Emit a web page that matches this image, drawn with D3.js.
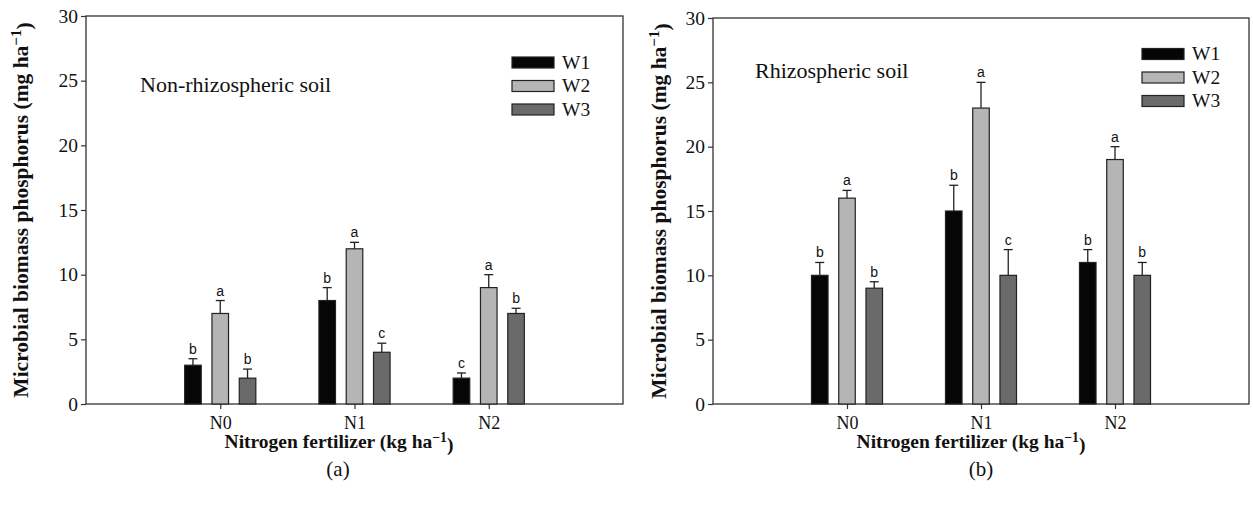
<!DOCTYPE html>
<html>
<head>
<meta charset="utf-8">
<script src="https://cdn.jsdelivr.net/npm/d3@7"></script>
<style>
  body { margin: 0; background: #fff; }
  svg { display: block; }
</style>
</head>
<body>
<svg id="chart" width="1253" height="506"></svg>
<script>
// values, one row per nitrogen level (N0, N1, N2), columns W1..W3
const categories = ['N0', 'N1', 'N2'];
const series = ['W1', 'W2', 'W3'];
const seriesColors = ['#060606', '#b5b5b5', '#6a6a6a'];
const yTicks = [0, 5, 10, 15, 20, 25, 30];

const nonRhizoValues = [[3, 7, 2], [8, 12, 4], [2, 9, 7]];
const nonRhizoErrors = [[0.5, 1.0, 0.7], [1.0, 0.5, 0.7], [0.4, 1.0, 0.4]];
const nonRhizoLetters = [['b', 'a', 'b'], ['b', 'a', 'c'], ['c', 'a', 'b']];

const rhizoValues = [[10, 16, 9], [15, 23, 10], [11, 19, 10]];
const rhizoErrors = [[1.0, 0.6, 0.5], [2.0, 2.0, 2.0], [1.0, 1.0, 1.0]];
const rhizoLetters = [['b', 'a', 'b'], ['b', 'a', 'c'], ['b', 'a', 'b']];

const svg = d3.select('#chart');
const serif = '"Liberation Serif", "Times New Roman", serif';
const sans = '"Liberation Sans", Arial, sans-serif';

function drawPanel(opts) {
  const { left, right, top, bottom, values, errors, letters, note, noteX, noteY,
    legendX, legendY, tag, tagX, titleX, xTitleX } = opts;
  const g = svg.append('g');

  const x = d3.scaleLinear().domain([0, 4]).range([left, right]);
  const y = d3.scaleLinear().domain([0, 30]).range([bottom, top]);
  const step = x(1) - x(0);
  const xSub = d3.scaleBand().domain(series)
    .range([-0.265 * step, 0.265 * step]).paddingInner(0.393);

  // frame
  g.append('rect')
    .attr('x', left).attr('y', top)
    .attr('width', right - left).attr('height', bottom - top)
    .attr('fill', 'none').attr('stroke', '#333').attr('stroke-width', 1.3);

  const yAxis = g.append('g')
    .attr('transform', `translate(${left},0)`)
    .call(d3.axisLeft(y).tickValues(yTicks).tickSize(5).tickPadding(3))
    .attr('font-family', serif).attr('font-size', 19.5);
  yAxis.select('.domain').remove();
  yAxis.selectAll('.tick line').attr('stroke', '#333').attr('stroke-width', 1.2);
  yAxis.selectAll('.tick text').attr('fill', '#111');

  const xAxis = g.append('g')
    .attr('transform', `translate(0,${bottom})`)
    .call(d3.axisBottom(x).tickValues([1, 2, 3]).tickFormat((d) => categories[d - 1])
      .tickSize(5).tickPadding(7))
    .attr('font-family', serif).attr('font-size', 18);
  xAxis.select('.domain').remove();
  xAxis.selectAll('.tick line').attr('stroke', '#333').attr('stroke-width', 1.2);
  xAxis.selectAll('.tick text').attr('fill', '#111');

  const groups = g.selectAll('g.cat')
    .data(categories)
    .enter()
    .append('g')
    .attr('class', 'cat')
    .attr('transform', (d, i) => `translate(${x(i + 1)},0)`);

  groups.each(function (cat, i) {
    const grp = d3.select(this);
    series.forEach((s, j) => {
      const v = values[i][j];
      const e = errors[i][j];
      const cx = xSub(s) + xSub.bandwidth() / 2;
      grp.append('rect')
        .attr('x', xSub(s))
        .attr('y', y(v))
        .attr('width', xSub.bandwidth())
        .attr('height', y(0) - y(v))
        .attr('fill', seriesColors[j])
        .attr('stroke', '#222')
        .attr('stroke-width', 1.2);
      // error bar (upper half only)
      grp.append('line')
        .attr('x1', cx).attr('x2', cx)
        .attr('y1', y(v)).attr('y2', y(v + e))
        .attr('stroke', '#222').attr('stroke-width', 1.3);
      grp.append('line')
        .attr('x1', cx - 4.5).attr('x2', cx + 4.5)
        .attr('y1', y(v + e)).attr('y2', y(v + e))
        .attr('stroke', '#222').attr('stroke-width', 1.3);
      grp.append('text')
        .attr('x', cx)
        .attr('y', y(v + e) - 5)
        .attr('text-anchor', 'middle')
        .attr('font-family', sans)
        .attr('font-size', 14)
        .attr('fill', '#111')
        .text(letters[i][j]);
    });
  });

  // legend
  series.forEach((s, j) => {
    g.append('rect')
      .attr('x', legendX).attr('y', legendY + j * 23.5)
      .attr('width', 42).attr('height', 11)
      .attr('fill', seriesColors[j]).attr('stroke', '#222').attr('stroke-width', 1.2);
    g.append('text')
      .attr('x', legendX + 50).attr('y', legendY + j * 23.5 + 11.5)
      .attr('font-family', serif).attr('font-size', 19.5).attr('fill', '#111')
      .text(s);
  });

  g.append('text')
    .attr('x', noteX).attr('y', noteY)
    .attr('font-family', serif).attr('font-size', 22).attr('fill', '#111')
    .text(note);

  // axis titles
  const xt = g.append('text')
    .attr('x', xTitleX).attr('y', bottom + 44)
    .attr('text-anchor', 'middle')
    .attr('font-family', serif).attr('font-size', 19.5).attr('font-weight', 'bold').attr('fill', '#111');
  xt.append('tspan').text('Nitrogen fertilizer (kg ha');
  xt.append('tspan').attr('dy', '-0.45em').attr('font-size', '0.7em').text('\u22121');
  xt.append('tspan').attr('dy', '0.45em').text(')');

  const yt = g.append('text')
    .attr('transform', `translate(${titleX},${(top + bottom) / 2}) rotate(-90)`)
    .attr('text-anchor', 'middle')
    .attr('font-family', serif).attr('font-size', 21.5).attr('font-weight', 'bold').attr('fill', '#111');
  yt.append('tspan').text('Microbial biomass phosphorus (mg ha');
  yt.append('tspan').attr('dy', '-0.45em').attr('font-size', '0.7em').text('\u22121');
  yt.append('tspan').attr('dy', '0.45em').text(')');

  g.append('text')
    .attr('x', tagX).attr('y', bottom + 72)
    .attr('text-anchor', 'middle')
    .attr('font-family', serif).attr('font-size', 21).attr('fill', '#111')
    .text(tag);
}

drawPanel({
  left: 86, right: 623, top: 16, bottom: 404,
  values: nonRhizoValues, errors: nonRhizoErrors, letters: nonRhizoLetters,
  note: 'Non-rhizospheric soil', noteX: 140, noteY: 92,
  legendX: 512, legendY: 57, tag: '(a)', tagX: 338, titleX: 28, xTitleX: 339
});

drawPanel({
  left: 713, right: 1249, top: 18, bottom: 404,
  values: rhizoValues, errors: rhizoErrors, letters: rhizoLetters,
  note: 'Rhizospheric soil', noteX: 755, noteY: 78,
  legendX: 1142, legendY: 48.5, tag: '(b)', tagX: 981, titleX: 666, xTitleX: 971
});
</script>
</body>
</html>
